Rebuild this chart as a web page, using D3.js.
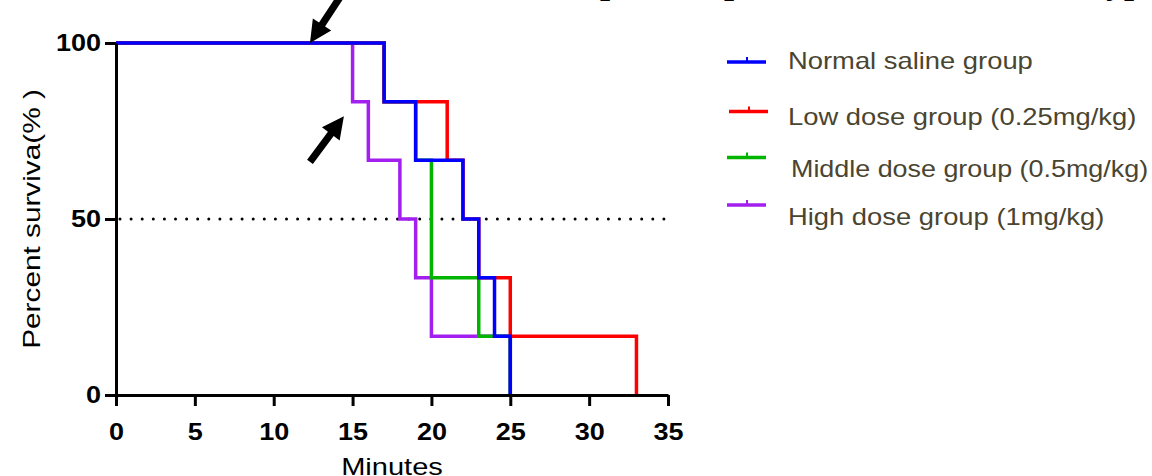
<!DOCTYPE html>
<html>
<head>
<meta charset="utf-8">
<script src="https://cdn.jsdelivr.net/npm/d3@7"></script>
<style>
  html, body { margin: 0; padding: 0; background: #fff; }
  svg { display: block; }
</style>
</head>
<body>
<div id="chart"></div>
<script>
(function (d3) {
    'use strict';

    // Kaplan-Meier steps (6 animals per group)
    var groupNames = [
        'Normal saline group',
        'Low dose group (0.25mg/kg)',
        'Middle dose group (0.5mg/kg)',
        'High dose group (1mg/kg)'
    ];
    var groupColors = ['#0000ff', '#ff0000', '#00b400', '#a31ff0'];

    var salineTimes = [0, 17, 19, 22, 23, 24, 25];
    var salineSurv  = [100, 83.33, 66.67, 50, 33.33, 16.67, 0];
    var lowTimes    = [0, 17, 21, 22, 23, 25, 33];
    var lowSurv     = [100, 83.33, 66.67, 50, 33.33, 16.67, 0];
    var midTimes    = [0, 17, 19, 20, 23, 25];
    var midSurv     = [100, 83.33, 66.67, 33.33, 16.67, 0];
    var highTimes   = [0, 15, 16, 18, 19, 20, 25];
    var highSurv    = [100, 83.33, 66.67, 50, 33.33, 16.67, 0];

    var xTicks = [0, 5, 10, 15, 20, 25, 30, 35];
    var yTicks = [0, 50, 100];

    // arrows: [tailX, tailY, tipX, tipY] in data units
    var arrows = [
        [14.2, 113, 12.3, 100],
        [12.3, 66.2, 14.45, 79.2]
    ];

    // clipped title fragments above the picture
    var titleBits = [[600, 'p'], [724, 'p'], [1106, 'yp']];

    var width = 1152, height = 476,
        font = 'Liberation Sans, Arial, sans-serif';

    var svg = d3.select('#chart').append('svg')
        .attr('width', width)
        .attr('height', height);

    var x = d3.scaleLinear().domain([0, 35]).range([116, 668]),
        y = d3.scaleLinear().domain([0, 100]).range([395, 43]);

    // the original text is a bit wider than Arial, stretch along the reading direction
    function stretch(sel, factor) {
        sel.each(function(d, i) {
            var f = typeof factor === 'function' ? factor(d, i) : factor;
            var len = this.getComputedTextLength();
            d3.select(this)
                .attr('textLength', len * f)
                .attr('lengthAdjust', 'spacingAndGlyphs');
        });
    }

    // clipped title
    svg.selectAll('text.title')
        .data(titleBits)
        .enter()
        .append('text')
        .attr('class', 'title')
        .attr('x', function(d) { return d[0]; })
        .attr('y', -7)
        .attr('font-family', 'Liberation Serif')
        .attr('font-weight', 'bold')
        .attr('font-size', 36)
        .attr('fill', '#000')
        .text(function(d) { return d[1]; });

    // dotted median line
    svg.append('line')
        .attr('x1', x(0) + 4).attr('x2', x(35))
        .attr('y1', y(50)).attr('y2', y(50))
        .attr('stroke', '#000')
        .attr('stroke-width', 3)
        .attr('stroke-linecap', 'round')
        .attr('stroke-dasharray', '0 11.1');

    var series = [
        { times: highTimes, surv: highSurv, color: groupColors[3] },
        { times: midTimes, surv: midSurv, color: groupColors[2] },
        { times: lowTimes, surv: lowSurv, color: groupColors[1] },
        { times: salineTimes, surv: salineSurv, color: groupColors[0] }
    ];

    var line = d3.line()
        .x(function(d) { return x(d[0]); })
        .y(function(d) { return y(d[1]); })
        .curve(d3.curveStepAfter);

    svg.selectAll('path.km')
        .data(series)
        .enter()
        .append('path')
        .attr('class', 'km')
        .attr('d', function(s) {
            return line(d3.zip(s.times, s.surv));
        })
        .attr('fill', 'none')
        .attr('stroke', function(s) { return s.color; })
        .attr('stroke-width', 3.5);

    // axes
    var xAxis = svg.append('g')
        .attr('transform', 'translate(0,' + y(0) + ')')
        .call(d3.axisBottom(x).tickValues(xTicks).tickSize(11).tickPadding(17).tickSizeOuter(0));
    var yAxis = svg.append('g')
        .attr('transform', 'translate(' + x(0) + ',0)')
        .call(d3.axisLeft(y).tickValues(yTicks).tickSize(11).tickPadding(4).tickSizeOuter(0));

    [xAxis, yAxis].forEach(function(a) {
        a.select('.domain').attr('stroke', '#000').attr('stroke-width', 3);
        a.selectAll('.tick line').attr('stroke', '#000').attr('stroke-width', 3);
        a.selectAll('.tick text')
            .attr('fill', '#000')
            .attr('font-family', font)
            .attr('font-weight', 'bold')
            .attr('font-size', 24)
            .call(stretch, 1.125);
    });
    yAxis.selectAll('.tick text').attr('dy', '0.33em');

    svg.append('text')
        .attr('x', 392)
        .attr('y', 475)
        .attr('text-anchor', 'middle')
        .attr('font-family', font)
        .attr('font-size', 24)
        .attr('fill', '#000')
        .text('Minutes')
        .call(stretch, 1.21);

    svg.append('text')
        .attr('transform', 'translate(40,219) rotate(-90)')
        .attr('text-anchor', 'middle')
        .attr('font-family', font)
        .attr('font-size', 24)
        .attr('fill', '#000')
        .text('Percent surviva(% )')
        .call(stretch, 1.24);

    // arrows
    svg.selectAll('path.arrow')
        .data(arrows)
        .enter()
        .append('path')
        .attr('class', 'arrow')
        .attr('fill', '#000')
        .attr('d', function(a) {
            var x1 = x(a[0]), y1 = y(a[1]), x2 = x(a[2]), y2 = y(a[3]);
            var dx = x2 - x1, dy = y2 - y1, len = Math.sqrt(dx * dx + dy * dy);
            var ux = dx / len, uy = dy / len, px = -uy, py = ux;
            var head = 22, hw = 11, sw = 3.6;
            var bx = x2 - ux * head, by = y2 - uy * head;
            var pts = [
                [x1 + px * sw, y1 + py * sw],
                [bx + px * sw, by + py * sw],
                [bx + px * hw, by + py * hw],
                [x2, y2],
                [bx - px * hw, by - py * hw],
                [bx - px * sw, by - py * sw],
                [x1 - px * sw, y1 - py * sw]
            ];
            return 'M' + pts.map(function(p) { return p[0] + ',' + p[1]; }).join('L') + 'Z';
        });

    // legend
    var rowY = [62, 111.5, 157.5, 205],
        textDy = [7, 13.5, 19.5, 20],
        textX = [788, 788, 791, 788],
        textStretch = [1.14, 1.14, 1.12, 1.14];

    var rows = svg.selectAll('g.row')
        .data(groupNames)
        .enter()
        .append('g')
        .attr('class', 'row')
        .attr('transform', function(d, i) { return 'translate(' + (i === 1 ? 729 : 727) + ',' + rowY[i] + ')'; });

    rows.append('line')
        .attr('x1', 0).attr('x2', 39)
        .attr('y1', 0).attr('y2', 0)
        .attr('stroke', function(d, i) { return groupColors[i]; })
        .attr('stroke-width', 3.5);
    rows.append('line')
        .attr('x1', 20).attr('x2', 20)
        .attr('y1', 0).attr('y2', -5)
        .attr('stroke', function(d, i) { return groupColors[i]; })
        .attr('stroke-width', 2);
    rows.append('text')
        .attr('x', function(d, i) { return textX[i] - (i === 1 ? 729 : 727); })
        .attr('y', function(d, i) { return textDy[i]; })
        .attr('font-family', font)
        .attr('font-size', 24)
        .attr('fill', '#4a4530')
        .text(function(d) { return d; })
        .call(stretch, function(d, i) { return textStretch[i]; });

})(d3);
</script>
</body>
</html>
